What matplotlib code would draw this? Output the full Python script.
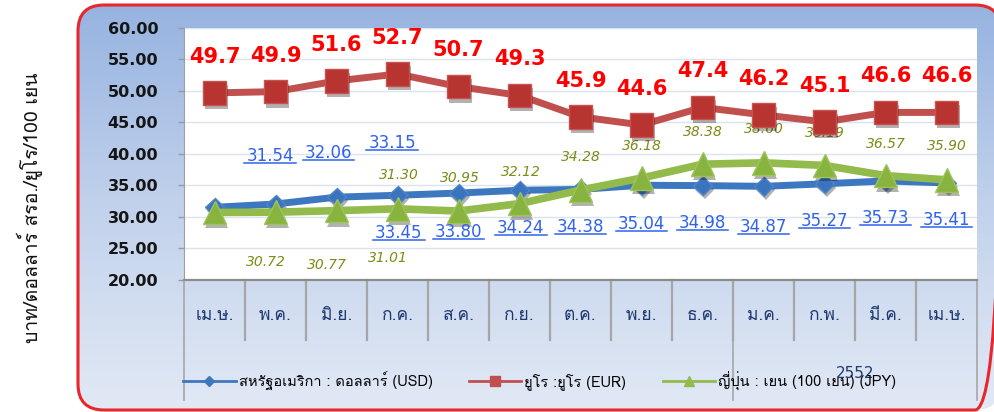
import numpy as np
import matplotlib
matplotlib.use('Agg')
import matplotlib.pyplot as plt
import matplotlib.patheffects as pe
from matplotlib import font_manager
from matplotlib.ft2font import FT2Font
from matplotlib.patches import FancyBboxPatch
from matplotlib.lines import Line2D
from matplotlib.colors import LinearSegmentedColormap
from matplotlib.transforms import IdentityTransform, blended_transform_factory

# data
months = ['เม.ษ.', 'พ.ค.', 'มิ.ย.', 'ก.ค.', 'ส.ค.', 'ก.ย.', 'ต.ค.',
          'พ.ย.', 'ธ.ค.', 'ม.ค.', 'ก.พ.', 'มี.ค.', 'เม.ษ.']
usd = [31.54, 32.06, 33.15, 33.45, 33.80, 34.24, 34.38, 35.04, 34.98, 34.87, 35.27, 35.73, 35.41]
eur = [49.7, 49.9, 51.6, 52.7, 50.7, 49.3, 45.9, 44.6, 47.4, 46.2, 45.1, 46.6, 46.6]
jpy = [30.72, 30.77, 31.01, 31.30, 30.95, 32.12, 34.28, 36.18, 38.38, 38.60, 38.19, 36.57, 35.90]
series_names = ['สหรัฐอเมริกา : ดอลลาร์ (USD)', 'ยูโร :ยูโร (EUR)', 'ญี่ปุ่น : เยน (100 เยน) (JPY)']
year_label = '2552'
y_title = 'บาท/ดอลลาร์ สรอ./ยูโร/100 เยน'
y_ticks = [20, 25, 30, 35, 40, 45, 50, 55, 60]

# label offsets (points) - labels were dragged around in the original
usd_offsets = [(40, 37), (38, 37), (40, 39)] + [(1, -27), (0, -28), (1, -27), (0, -27), (0, -28),
                                                (0, -27), (0, -29), (0, -27), (0, -27), (0, -27)]
jpy_offsets = [(37, -36), (37, -38), (37, -34)] + [(1, 24), (1, 24), (1, 23), (0, 24), (0, 23),
                                                   (0, 23), (0, 24), (0, 23), (0, 23), (0, 24)]


# look for a font that has Thai glyphs
def find_thai_font():
    for f in font_manager.fontManager.ttflist:
        try:
            if 0x0E01 in FT2Font(f.fname).get_charmap():
                return f.name
        except Exception:
            pass
    return 'DejaVu Sans'


thai = find_thai_font()
fam = [thai, 'DejaVu Sans']

fig = plt.figure(figsize=(9.94, 4.12), dpi=100)
fig.patch.set_facecolor('white')

# background frame (pixel coords)
ax_bg = fig.add_axes([0, 0, 1, 1], zorder=0)
ax_bg.set_xlim(0, 994)
ax_bg.set_ylim(412, 0)
ax_bg.axis('off')
cmap_bg = LinearSegmentedColormap.from_list('bg', ['#96b3e0', '#c2d2ec', '#e2e9f5'])
grad = np.linspace(0, 1, 256).reshape(-1, 1)
im = ax_bg.imshow(grad, extent=[78, 1001, 410, 5], aspect='auto', cmap=cmap_bg, origin='upper')
frame = FancyBboxPatch((78, 5), 923, 405, boxstyle='round,pad=0,rounding_size=26',
                       transform=ax_bg.transData, facecolor='none', edgecolor='#e8262c', lw=2.2)
ax_bg.add_patch(frame)
im.set_clip_path(frame)

ax = fig.add_axes([184 / 994, (412 - 280) / 412, 793 / 994, 252 / 412], zorder=1)
ax.set_facecolor('white')
x = np.arange(len(months))

shadow = [pe.SimplePatchShadow(offset=(1.5, -3), shadow_rgbFace='k', alpha=0.3), pe.Normal()]

# lines
ax.plot(x, usd, color='#3d77bf', lw=5, zorder=3, solid_capstyle='round')
ax.plot(x, usd, 'D', ms=9.5, color='#3a74be', mec='#4f85c8', zorder=3.1, path_effects=shadow)
ax.plot(x, jpy, color='#93bb4c', lw=5.5, zorder=4, solid_capstyle='round')
ax.plot(x, jpy, '^', ms=17, color='#88b33e', mec='#9cc45a', zorder=4.1, path_effects=shadow)
ax.plot(x, eur, color='#c0504d', lw=5, zorder=5, solid_capstyle='round')
ax.plot(x, eur, 's', ms=17, color='#b73431', mec='#c9524f', zorder=5.1, path_effects=shadow)

# data labels
for i, v in enumerate(eur):
    ax.annotate(f'{v:.1f}', (i, v), xytext=(0, 26), textcoords='offset points',
                ha='center', va='center', fontsize=15, fontweight='bold', color='#ff0000',
                zorder=6)
for i, v in enumerate(jpy):
    ax.annotate(f'{v:.2f}', (i, v), xytext=jpy_offsets[i], textcoords='offset points',
                ha='center', va='center', fontsize=10, fontstyle='italic', color='#7f8a18',
                zorder=2)
usd_texts = []
for i, v in enumerate(usd):
    t = ax.annotate(f'{v:.2f}', (i, v), xytext=usd_offsets[i], textcoords='offset points',
                    ha='center', va='center', fontsize=12, color='#3062ec', zorder=7)
    usd_texts.append(t)

ax.set_xlim(-0.5, len(months) - 0.5)
ax.set_ylim(20, 60)
ax.set_yticks(y_ticks)
ax.set_yticklabels([f'{t:.2f}' for t in y_ticks], fontsize=11.5, fontweight='bold', color='#151515')
ax.tick_params(axis='y', length=4.5, width=1, color='#9a9a9a', pad=14)
ax.yaxis.grid(True, color='#dbe3ef', lw=1)
ax.set_axisbelow(True)
ax.set_xticks(x)
ax.set_xticklabels(months, fontsize=12.5, color='#1f3a70', family=fam)
ax.tick_params(axis='x', length=0, pad=20)
for s in ['top', 'right']:
    ax.spines[s].set_visible(False)
ax.spines['left'].set_color('#a0a0a0')
ax.spines['bottom'].set_color('#8c8c8c')
ax.spines['bottom'].set_linewidth(1.6)

# category dividers (two-level axis)
tr = blended_transform_factory(ax.transData, ax.transAxes)
for k in range(1, len(months)):
    ax.plot([k - 0.5, k - 0.5], [0, -60 / 252], color='#a6a6a6', lw=1.6, transform=tr, clip_on=False)
for k in [-0.5, 8.5, 12.5]:
    ax.plot([k, k], [0, -120 / 252], color='#a6a6a6', lw=1.2, transform=tr, clip_on=False)
ax.text(10.5, -93 / 252, year_label, transform=tr, ha='center', va='center', fontsize=11,
        color='#1f3a70')

# legend
handles = [Line2D([], [], color='#3d77bf', lw=2, marker='D', ms=5),
           Line2D([], [], color='#c0504d', lw=2, marker='s', ms=7),
           Line2D([], [], color='#93bb4c', lw=2, marker='^', ms=7)]
fig.legend(handles, series_names, loc='center left', bbox_to_anchor=(170 / 994, 31 / 412),
           ncol=3, frameon=False, handlelength=3.6, handletextpad=0.2, columnspacing=2.5,
           prop={'family': fam, 'size': 10.5})

fig.text(30 / 994, (412 - 208) / 412, y_title, rotation=90, ha='center', va='center',
         fontsize=14, family=fam, color='#111111')

# underline the blue labels
fig.canvas.draw()
rend = fig.canvas.get_renderer()
for t in usd_texts:
    bb = t.get_window_extent(rend)
    fig.add_artist(Line2D([bb.x0 - 2, bb.x1 + 2], [bb.y0 + 2, bb.y0 + 2], color='#3062ec',
                          lw=1.1, transform=IdentityTransform(), zorder=8))

fig.savefig('out.png', dpi=100)
